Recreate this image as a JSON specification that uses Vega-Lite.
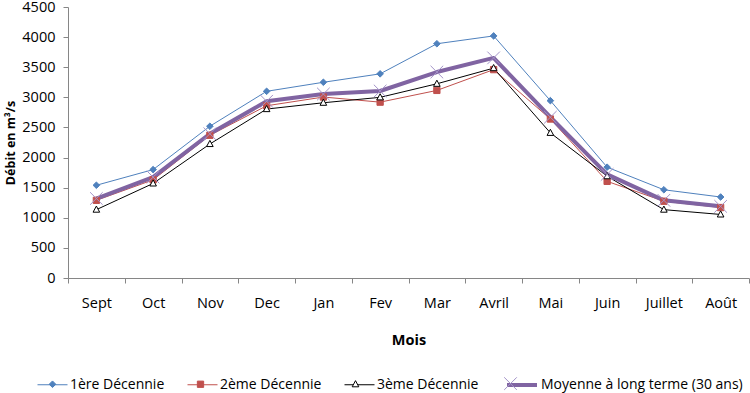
{
  "$schema": "https://vega.github.io/schema/vega-lite/v6.json",
  "width": 681,
  "height": 271,
  "autosize": {"type": "none"},
  "padding": {"left": 68, "top": 7, "right": 1, "bottom": 115},
  "background": "white",
  "config": {
    "view": {"stroke": null},
    "font": "Open Sans",
    "axis": {
      "grid": false,
      "domainColor": "#868686",
      "tickColor": "#868686",
      "labelColor": "#000000",
      "labelFontSize": 14.5,
      "titleFontSize": 14.5,
      "titleFontWeight": "bold",
      "titleColor": "#000000"
    },
    "legend": {
      "labelFontSize": 14,
      "labelColor": "#000000",
      "labelLimit": 400
    }
  },
  "data": {
    "values": [
      {"mois": "Sept", "serie": "1ère Décennie", "debit": 1540},
      {"mois": "Oct", "serie": "1ère Décennie", "debit": 1800},
      {"mois": "Nov", "serie": "1ère Décennie", "debit": 2520},
      {"mois": "Dec", "serie": "1ère Décennie", "debit": 3100},
      {"mois": "Jan", "serie": "1ère Décennie", "debit": 3250},
      {"mois": "Fev", "serie": "1ère Décennie", "debit": 3390},
      {"mois": "Mar", "serie": "1ère Décennie", "debit": 3890},
      {"mois": "Avril", "serie": "1ère Décennie", "debit": 4020},
      {"mois": "Mai", "serie": "1ère Décennie", "debit": 2945},
      {"mois": "Juin", "serie": "1ère Décennie", "debit": 1840},
      {"mois": "Juillet", "serie": "1ère Décennie", "debit": 1465},
      {"mois": "Août", "serie": "1ère Décennie", "debit": 1345},
      {"mois": "Sept", "serie": "2ème Décennie", "debit": 1290},
      {"mois": "Oct", "serie": "2ème Décennie", "debit": 1630},
      {"mois": "Nov", "serie": "2ème Décennie", "debit": 2370},
      {"mois": "Dec", "serie": "2ème Décennie", "debit": 2860},
      {"mois": "Jan", "serie": "2ème Décennie", "debit": 3005},
      {"mois": "Fev", "serie": "2ème Décennie", "debit": 2920},
      {"mois": "Mar", "serie": "2ème Décennie", "debit": 3115},
      {"mois": "Avril", "serie": "2ème Décennie", "debit": 3460},
      {"mois": "Mai", "serie": "2ème Décennie", "debit": 2640},
      {"mois": "Juin", "serie": "2ème Décennie", "debit": 1605},
      {"mois": "Juillet", "serie": "2ème Décennie", "debit": 1275},
      {"mois": "Août", "serie": "2ème Décennie", "debit": 1170},
      {"mois": "Sept", "serie": "3ème Décennie", "debit": 1135},
      {"mois": "Oct", "serie": "3ème Décennie", "debit": 1570},
      {"mois": "Nov", "serie": "3ème Décennie", "debit": 2225},
      {"mois": "Dec", "serie": "3ème Décennie", "debit": 2805},
      {"mois": "Jan", "serie": "3ème Décennie", "debit": 2910},
      {"mois": "Fev", "serie": "3ème Décennie", "debit": 3000},
      {"mois": "Mar", "serie": "3ème Décennie", "debit": 3225},
      {"mois": "Avril", "serie": "3ème Décennie", "debit": 3485},
      {"mois": "Mai", "serie": "3ème Décennie", "debit": 2410},
      {"mois": "Juin", "serie": "3ème Décennie", "debit": 1690},
      {"mois": "Juillet", "serie": "3ème Décennie", "debit": 1135},
      {"mois": "Août", "serie": "3ème Décennie", "debit": 1055},
      {"mois": "Sept", "serie": "Moyenne à long terme (30 ans)", "debit": 1320},
      {"mois": "Oct", "serie": "Moyenne à long terme (30 ans)", "debit": 1675},
      {"mois": "Nov", "serie": "Moyenne à long terme (30 ans)", "debit": 2395},
      {"mois": "Dec", "serie": "Moyenne à long terme (30 ans)", "debit": 2935},
      {"mois": "Jan", "serie": "Moyenne à long terme (30 ans)", "debit": 3055},
      {"mois": "Fev", "serie": "Moyenne à long terme (30 ans)", "debit": 3105},
      {"mois": "Mar", "serie": "Moyenne à long terme (30 ans)", "debit": 3420},
      {"mois": "Avril", "serie": "Moyenne à long terme (30 ans)", "debit": 3655},
      {"mois": "Mai", "serie": "Moyenne à long terme (30 ans)", "debit": 2670},
      {"mois": "Juin", "serie": "Moyenne à long terme (30 ans)", "debit": 1720},
      {"mois": "Juillet", "serie": "Moyenne à long terme (30 ans)", "debit": 1290},
      {"mois": "Août", "serie": "Moyenne à long terme (30 ans)", "debit": 1190}
    ]
  },
  "encoding": {
    "x": {
      "field": "mois",
      "type": "ordinal",
      "sort": ["Sept", "Oct", "Nov", "Dec", "Jan", "Fev", "Mar", "Avril", "Mai", "Juin", "Juillet", "Août"],
      "bandPosition": 0.5,
      "scale": {"type": "band", "paddingInner": 0, "paddingOuter": 0},
      "axis": {
        "title": "Mois",
        "labelAngle": 0,
        "tickBand": "extent",
        "tickSize": 5,
        "labelPadding": 13,
        "titlePadding": 24
      }
    },
    "y": {
      "field": "debit",
      "type": "quantitative",
      "scale": {"domain": [0, 4500], "nice": false},
      "axis": {
        "title": "Débit en m³/s",
        "titleFontSize": 12.5,
        "format": "d",
        "values": [0, 500, 1000, 1500, 2000, 2500, 3000, 3500, 4000, 4500],
        "tickSize": 5,
        "labelPadding": 8,
        "titlePadding": 4
      }
    }
  },
  "layer": [
    {
      "mark": {"type": "line", "strokeJoin": "round"},
      "encoding": {
        "color": {
          "field": "serie",
          "type": "nominal",
          "scale": {"range": ["#4F81BD", "#C0504D", "#000000", "#8064A2"]},
          "legend": {
            "title": null,
            "orient": "none",
            "direction": "horizontal",
            "legendX": -31,
            "legendY": 361,
            "symbolType": "stroke",
            "symbolSize": 900,
            "labelOffset": 2,
            "columnPadding": 20,
            "padding": 0
          }
        },
        "strokeWidth": {
          "field": "serie",
          "type": "nominal",
          "scale": {"type": "ordinal", "range": [1, 1, 1, 4]},
          "legend": {
            "title": null,
            "orient": "none",
            "direction": "horizontal",
            "legendX": -31,
            "legendY": 361,
            "symbolType": "stroke",
            "symbolSize": 900,
            "labelOffset": 2,
            "columnPadding": 20,
            "padding": 0
          }
        }
      }
    },
    {
      "mark": {"type": "point", "size": 900, "opacity": 1, "strokeWidth": 1},
      "encoding": {
        "shape": {
          "field": "serie",
          "type": "nominal",
          "scale": {
            "domain": ["1ère Décennie", "2ème Décennie", "3ème Décennie", "Moyenne à long terme (30 ans)"],
            "range": [
              "M0,-0.22L0.22,0L0,0.22L-0.22,0Z",
              "M-0.21,-0.21H0.21V0.21H-0.21Z",
              "M0,-0.24L0.22,0.17H-0.22Z",
              "M-0.42,-0.42L0.42,0.42M-0.42,0.42L0.42,-0.42"
            ]
          },
          "legend": {
            "title": null,
            "orient": "none",
            "direction": "horizontal",
            "legendX": -31,
            "legendY": 361,
            "symbolSize": 900,
            "symbolStrokeWidth": 1,
            "labelOffset": 2,
            "columnPadding": 20,
            "padding": 0,
            "labelOpacity": 0
          }
        },
        "fill": {
          "field": "serie",
          "type": "nominal",
          "scale": {
            "domain": ["1ère Décennie", "2ème Décennie", "3ème Décennie", "Moyenne à long terme (30 ans)"],
            "range": ["#4F81BD", "#C0504D", "#FFFFFF", "transparent"]
          },
          "legend": {
            "title": null,
            "orient": "none",
            "direction": "horizontal",
            "legendX": -31,
            "legendY": 361,
            "symbolSize": 900,
            "symbolStrokeWidth": 1,
            "labelOffset": 2,
            "columnPadding": 20,
            "padding": 0,
            "labelOpacity": 0
          }
        },
        "stroke": {
          "field": "serie",
          "type": "nominal",
          "scale": {
            "domain": ["1ère Décennie", "2ème Décennie", "3ème Décennie", "Moyenne à long terme (30 ans)"],
            "range": ["#4F81BD", "#C0504D", "#000000", "#A393C8"]
          },
          "legend": {
            "title": null,
            "orient": "none",
            "direction": "horizontal",
            "legendX": -31,
            "legendY": 361,
            "symbolSize": 900,
            "symbolStrokeWidth": 1,
            "labelOffset": 2,
            "columnPadding": 20,
            "padding": 0,
            "labelOpacity": 0
          }
        }
      }
    }
  ]
}
